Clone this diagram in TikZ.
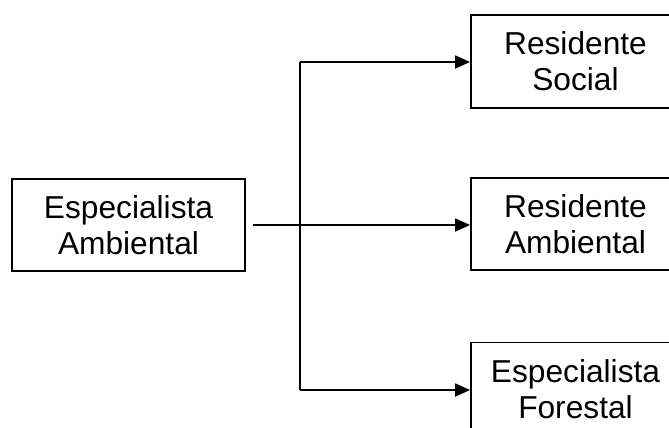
\documentclass[tikz,border=0pt]{standalone}
\usepackage{fontspec}
\setmainfont{Liberation Sans}
\usetikzlibrary{arrows.meta}
\begin{document}
\begin{tikzpicture}[x=1pt,y=-1pt,
  box/.style={draw, line width=1.8pt, align=center, inner sep=0pt,
    font=\fontsize{31.7}{36}\selectfont},
  conn/.style={line width=1.8pt},
  arr/.style={conn, -{Triangle[length=15pt,width=13pt]}}]
\useasboundingbox (0,0) rectangle (669,428);
\clip (0,0) rectangle (669,428);
\node[box, minimum width=233pt, minimum height=92pt] (L) at (128.5,225) {Especialista\\Ambiental};
\node[box, minimum width=209pt, minimum height=93pt] (R1) at (575.5,61.5) {Residente\\Social};
\node[box, minimum width=209pt, minimum height=92pt] (R2) at (575.5,224) {Residente\\Ambiental};
\node[box, minimum width=209pt, minimum height=93pt] (R3) at (575.5,389) {Especialista\\Forestal};
\coordinate (J1) at (300,62);
\coordinate (J3) at (300,390);
\draw[arr, shorten <=7pt] (L.east) -- (L.east -| R2.west);
\draw[conn] (J1) -- (J3);
\draw[arr] (J1) -- (J1 -| R1.west);
\draw[arr] (J3) -- (J3 -| R3.west);
\end{tikzpicture}
\end{document}
